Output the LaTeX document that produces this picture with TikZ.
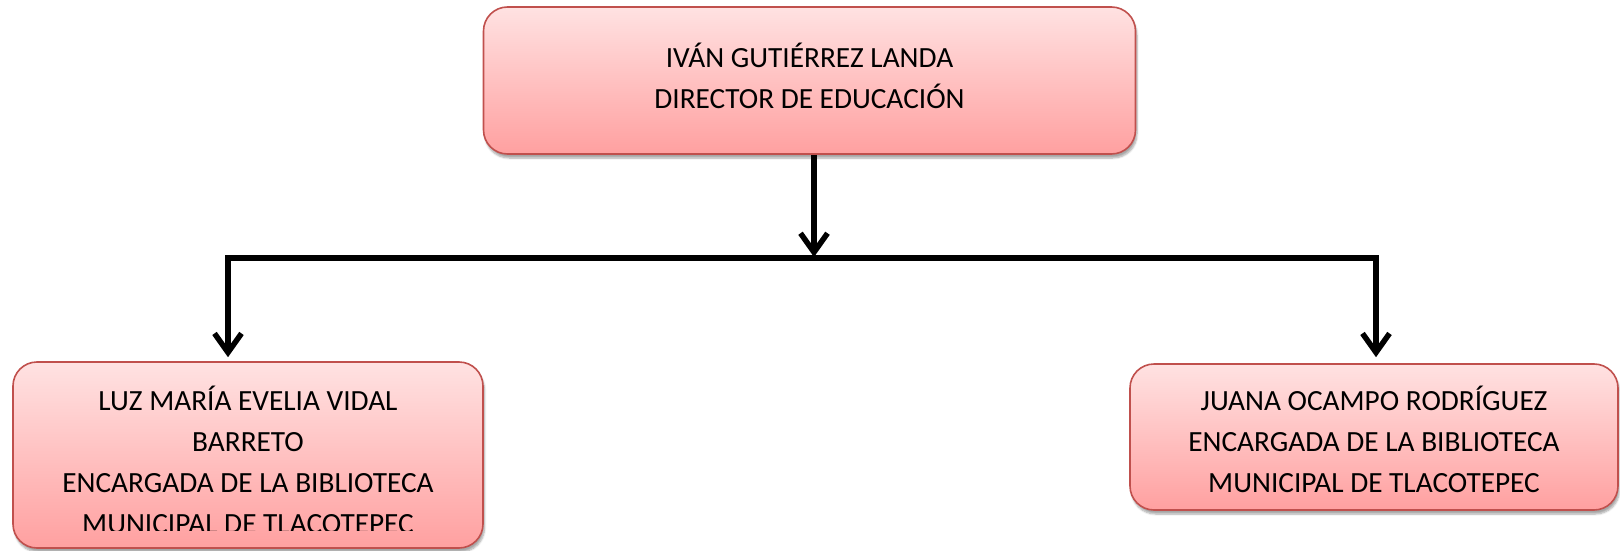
\documentclass[tikz,border=0pt]{standalone}
\usepackage{fontspec}
\setmainfont{Carlito}
\usetikzlibrary{arrows.meta,shadows.blur}
\definecolor{boxtop}{RGB}{255,226,226}
\definecolor{boxbot}{RGB}{255,160,160}
\definecolor{boxline}{RGB}{192,80,77}
\tikzset{
  orgbox/.style={rectangle, rounded corners=24pt, draw=boxline, line width=1.6pt,
    top color=boxtop, bottom color=boxbot, inner sep=0pt,
    blur shadow={shadow xshift=1.5pt, shadow yshift=-4pt, shadow blur steps=6, shadow opacity=35}},
  boxtext/.style={align=center, inner sep=0pt, font=\fontsize{29.3}{41}\selectfont, text=black},
  conn/.style={line width=5.5pt, line join=miter, draw=black},
  tip/.tip={Straight Barb[length=19pt,width=27pt,line width=5.5pt]}
}
\begin{document}
\begin{tikzpicture}[x=1pt,y=-1pt]
\useasboundingbox (0,0) rectangle (1620,551);
% boxes
\node[orgbox, minimum width=652pt, minimum height=147pt] (top) at (809.5,80.5) {};
\node[orgbox, minimum width=470pt, minimum height=186pt] (left) at (248,455) {};
\node[orgbox, minimum width=488pt, minimum height=146pt] (right) at (1374,437) {};
% texts
\node[boxtext] (toptext) at (809.5,80) {\strut IVÁN GUTIÉRREZ LANDA\\ DIRECTOR DE EDUCACIÓN\strut};
\begin{scope}
  \clip (0,340) rectangle (500,530);
  \node[boxtext] (lefttext) at (248,463.5) {\strut LUZ MARÍA EVELIA VIDAL\\ BARRETO\\ ENCARGADA DE LA BIBLIOTECA\\ MUNICIPAL DE TLACOTEPEC\strut};
\end{scope}
\node[boxtext] (righttext) at (1374,443.5) {\strut JUANA OCAMPO RODRÍGUEZ\\ ENCARGADA DE LA BIBLIOTECA\\ MUNICIPAL DE TLACOTEPEC\strut};
% junctions
\coordinate (jM) at (814,258);
\coordinate (jL) at (228,258);
\coordinate (jR) at (1376,258);
% connectors
\draw[conn, -{tip}] (top.south -| jM) -- ([yshift=1pt]jM);
\draw[conn, {tip}-{tip}] ([yshift=4pt]left.north -| jL) -- (jL) -- (jR) -- ([yshift=6pt]right.north -| jR);
\end{tikzpicture}
\end{document}
